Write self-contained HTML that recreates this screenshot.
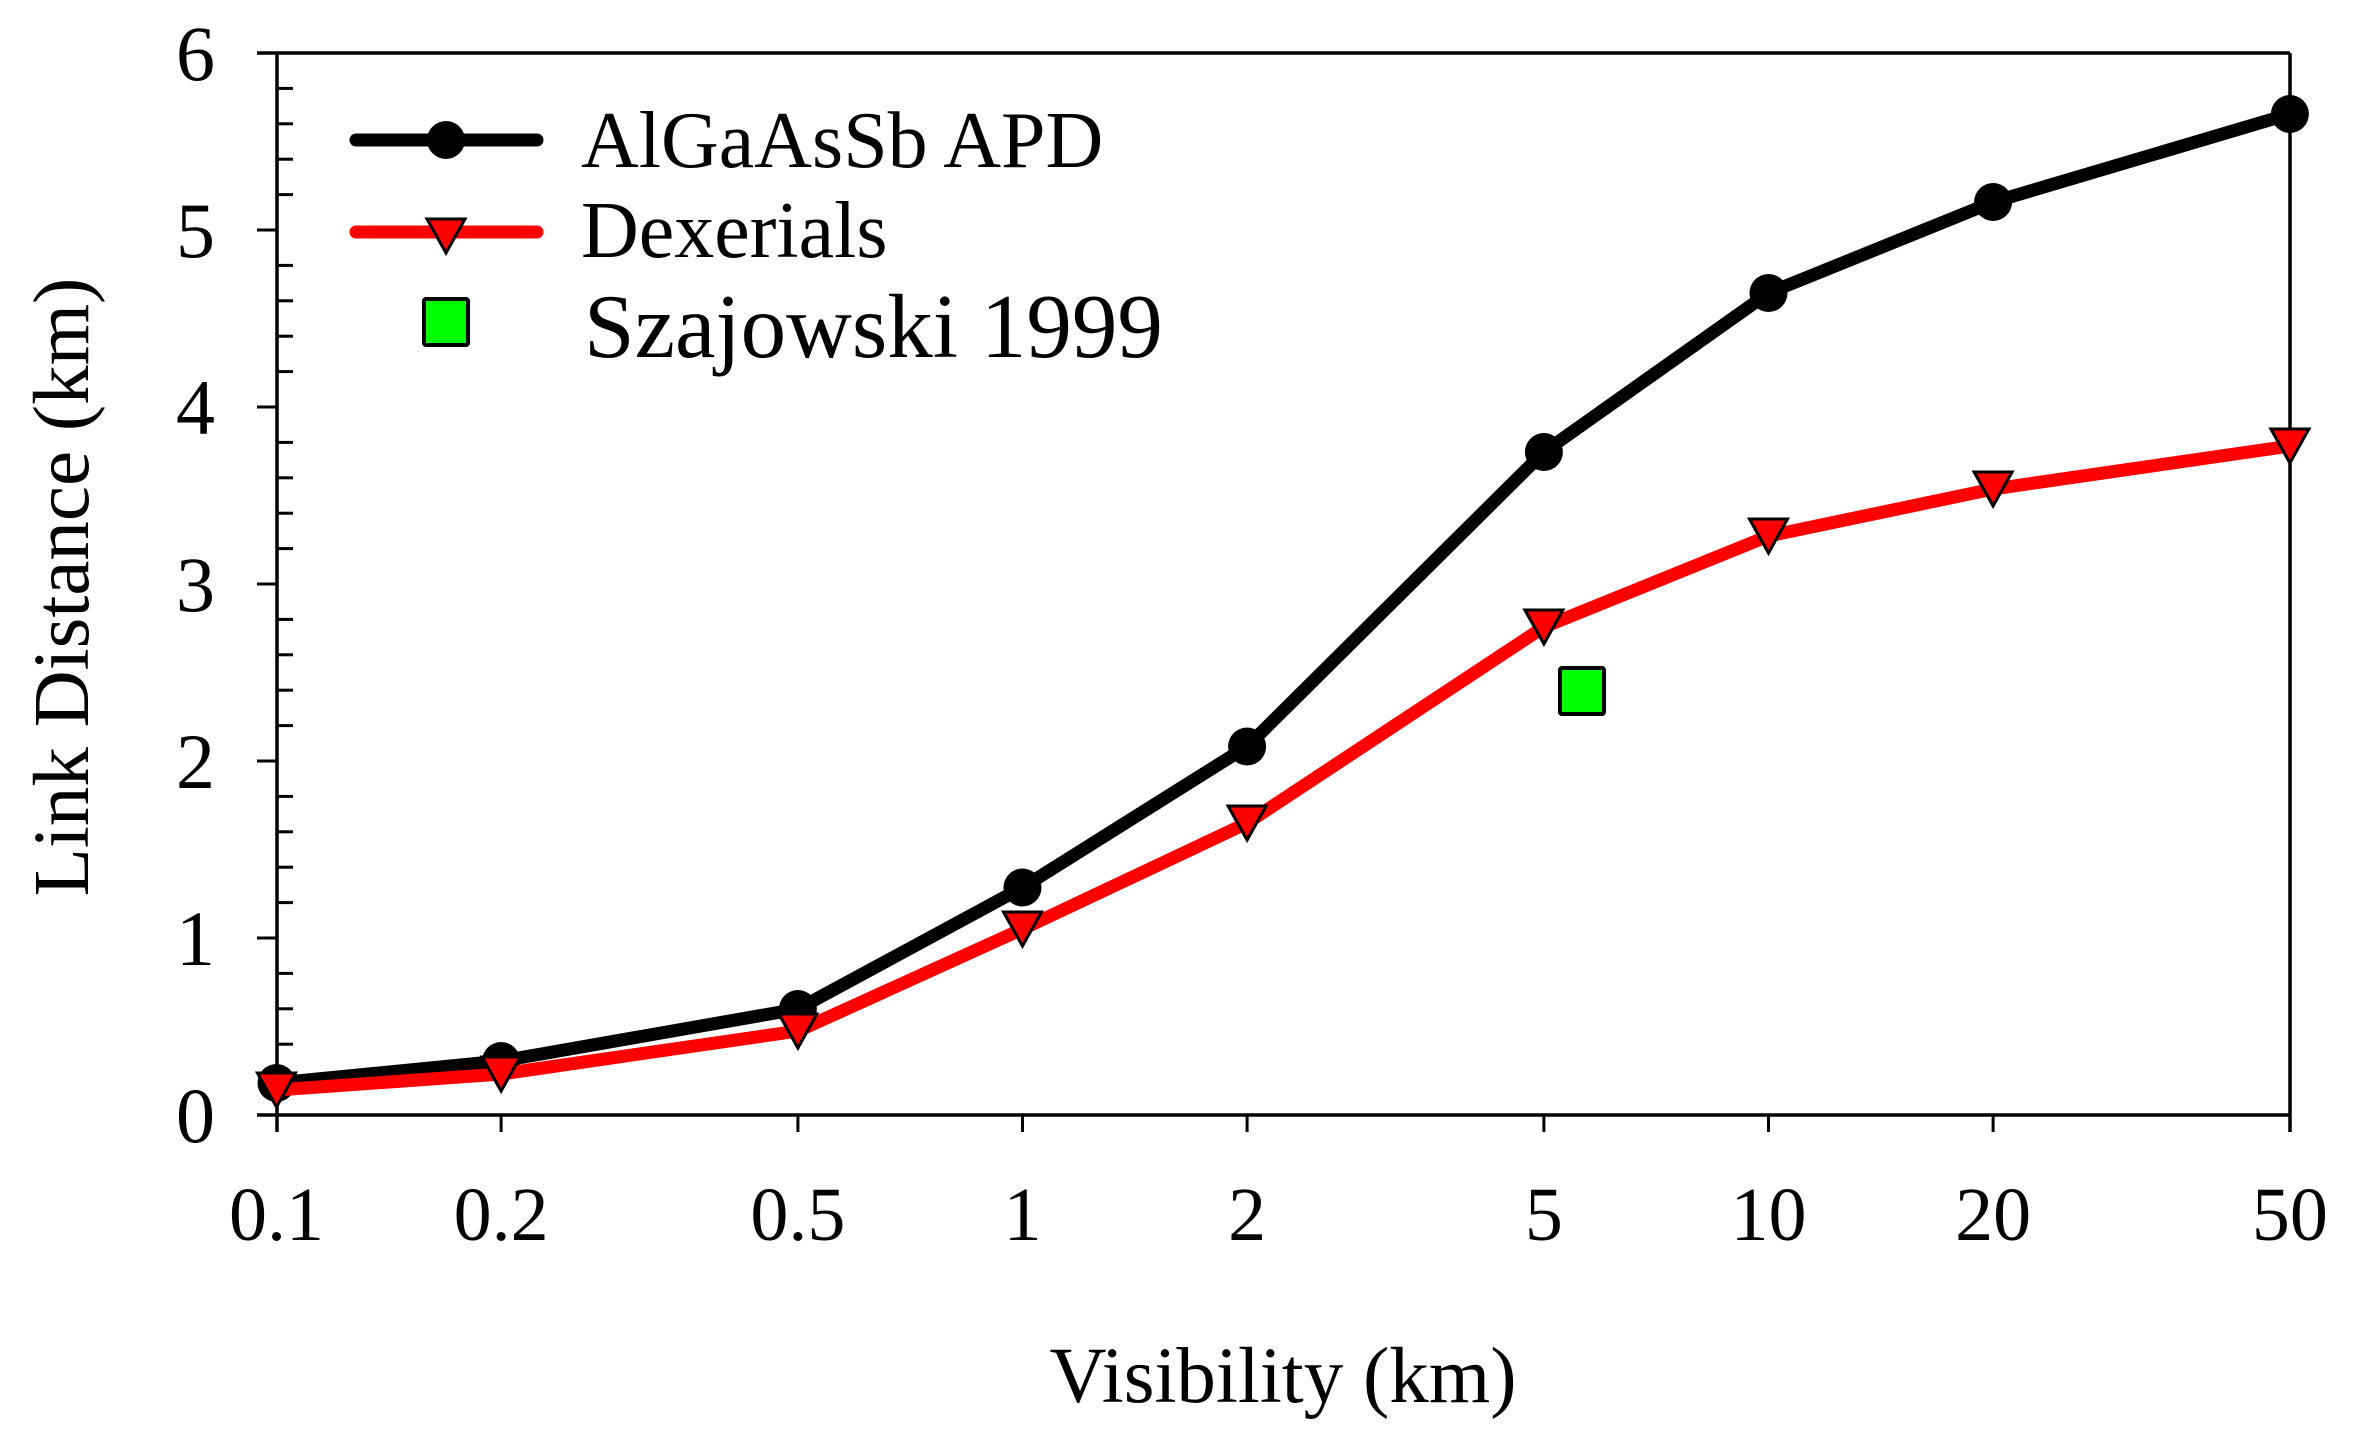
<!DOCTYPE html>
<html>
<head>
<meta charset="utf-8">
<style>
  html,body{margin:0;padding:0;background:#fff;}
  svg{display:block;}
  text{font-family:"Liberation Serif","Times New Roman",serif;fill:#000;}
</style>
</head>
<body>
<svg width="2357" height="1448" viewBox="0 0 2357 1448" xmlns="http://www.w3.org/2000/svg">
  <rect x="0" y="0" width="2357" height="1448" fill="#fff"/>

  <!-- frame -->
  <g stroke="#000" stroke-width="3.5" fill="none">
    <line x1="257" y1="53" x2="2290" y2="53"/>
    <line x1="257" y1="1115" x2="2290" y2="1115"/>
    <line x1="277" y1="53" x2="277" y2="1132"/>
    <line x1="2290" y1="53" x2="2290" y2="1132"/>
  </g>
  <g stroke="#000" stroke-width="3" fill="none">
    <!-- y major ticks (outward) -->
    <line x1="257" y1="938" x2="277" y2="938"/>
    <line x1="257" y1="761" x2="277" y2="761"/>
    <line x1="257" y1="584" x2="277" y2="584"/>
    <line x1="257" y1="407" x2="277" y2="407"/>
    <line x1="257" y1="230" x2="277" y2="230"/>
    <!-- y minor ticks (inward) -->
    <line x1="277" y1="1079.6" x2="293" y2="1079.6"/>
    <line x1="277" y1="1044.2" x2="293" y2="1044.2"/>
    <line x1="277" y1="1008.8" x2="293" y2="1008.8"/>
    <line x1="277" y1="973.4" x2="293" y2="973.4"/>
    <line x1="277" y1="902.6" x2="293" y2="902.6"/>
    <line x1="277" y1="867.2" x2="293" y2="867.2"/>
    <line x1="277" y1="831.8" x2="293" y2="831.8"/>
    <line x1="277" y1="796.4" x2="293" y2="796.4"/>
    <line x1="277" y1="725.6" x2="293" y2="725.6"/>
    <line x1="277" y1="690.2" x2="293" y2="690.2"/>
    <line x1="277" y1="654.8" x2="293" y2="654.8"/>
    <line x1="277" y1="619.4" x2="293" y2="619.4"/>
    <line x1="277" y1="548.6" x2="293" y2="548.6"/>
    <line x1="277" y1="513.2" x2="293" y2="513.2"/>
    <line x1="277" y1="477.8" x2="293" y2="477.8"/>
    <line x1="277" y1="442.4" x2="293" y2="442.4"/>
    <line x1="277" y1="371.6" x2="293" y2="371.6"/>
    <line x1="277" y1="336.2" x2="293" y2="336.2"/>
    <line x1="277" y1="300.8" x2="293" y2="300.8"/>
    <line x1="277" y1="265.4" x2="293" y2="265.4"/>
    <line x1="277" y1="194.6" x2="293" y2="194.6"/>
    <line x1="277" y1="159.2" x2="293" y2="159.2"/>
    <line x1="277" y1="123.8" x2="293" y2="123.8"/>
    <line x1="277" y1="88.4" x2="293" y2="88.4"/>
    <!-- x ticks (outward) -->
    <line x1="501.1" y1="1115" x2="501.1" y2="1132"/>
    <line x1="797.9" y1="1115" x2="797.9" y2="1132"/>
    <line x1="1022.5" y1="1115" x2="1022.5" y2="1132"/>
    <line x1="1247.1" y1="1115" x2="1247.1" y2="1132"/>
    <line x1="1543.9" y1="1115" x2="1543.9" y2="1132"/>
    <line x1="1768.5" y1="1115" x2="1768.5" y2="1132"/>
    <line x1="1993.1" y1="1115" x2="1993.1" y2="1132"/>
  </g>

  <!-- y tick labels -->
  <g font-size="78" text-anchor="end">
    <text x="215" y="1142">0</text>
    <text x="215" y="965">1</text>
    <text x="215" y="788">2</text>
    <text x="215" y="611">3</text>
    <text x="215" y="434">4</text>
    <text x="215" y="257">5</text>
    <text x="215" y="80">6</text>
  </g>

  <!-- x tick labels -->
  <g font-size="76" text-anchor="middle">
    <text x="276.5" y="1240">0.1</text>
    <text x="501.1" y="1240">0.2</text>
    <text x="797.9" y="1240">0.5</text>
    <text x="1022.5" y="1240">1</text>
    <text x="1247.1" y="1240">2</text>
    <text x="1543.9" y="1240">5</text>
    <text x="1768.5" y="1240">10</text>
    <text x="1993.1" y="1240">20</text>
    <text x="2289.9" y="1240">50</text>
  </g>

  <!-- axis labels -->
  <text x="1283" y="1402" font-size="79" text-anchor="middle">Visibility (km)</text>
  <text transform="translate(88,587) rotate(-90)" font-size="79" text-anchor="middle">Link Distance (km)</text>

  <!-- black series -->
  <polyline fill="none" stroke="#000" stroke-width="13" stroke-linejoin="round"
    points="276.5,1083 501.1,1061 797.9,1009 1022.5,887.5 1247.1,746.5 1543.9,452 1768.5,293 1993.1,202 2289.9,114"/>
  <g fill="#000">
    <circle cx="276.5" cy="1083" r="19"/>
    <circle cx="501.1" cy="1061" r="19"/>
    <circle cx="797.9" cy="1009" r="19"/>
    <circle cx="1022.5" cy="887.5" r="19"/>
    <circle cx="1247.1" cy="746.5" r="19"/>
    <circle cx="1543.9" cy="452" r="19"/>
    <circle cx="1768.5" cy="293" r="19"/>
    <circle cx="1993.1" cy="202" r="19"/>
    <circle cx="2289.9" cy="114" r="19"/>
  </g>

  <!-- red series -->
  <polyline fill="none" stroke="#ff0000" stroke-width="13" stroke-linejoin="round"
    points="276.5,1090 501.1,1074 797.9,1031 1022.5,929 1247.1,823 1543.9,627 1768.5,536 1993.1,489 2289.9,446"/>
  <g fill="#ff0000" stroke="#000" stroke-width="3" stroke-linejoin="miter">
    <polygon points="257.5,1073 295.5,1073 276.5,1107"/>
    <polygon points="482.1,1057 520.1,1057 501.1,1091"/>
    <polygon points="778.9,1014 816.9,1014 797.9,1048"/>
    <polygon points="1003.5,912 1041.5,912 1022.5,946"/>
    <polygon points="1228.1,806 1266.1,806 1247.1,840"/>
    <polygon points="1524.9,610 1562.9,610 1543.9,644"/>
    <polygon points="1749.5,519 1787.5,519 1768.5,553"/>
    <polygon points="1974.1,472 2012.1,472 1993.1,506"/>
    <polygon points="2270.9,429 2308.9,429 2289.9,463"/>
  </g>

  <!-- green point -->
  <rect x="1560" y="668" width="44" height="46" rx="2" fill="#00ff00" stroke="#000" stroke-width="4"/>

  <!-- legend -->
  <line x1="356" y1="140" x2="537" y2="140" stroke="#000" stroke-width="13" stroke-linecap="round"/>
  <circle cx="446" cy="140" r="19" fill="#000"/>
  <line x1="356" y1="232" x2="537" y2="232" stroke="#ff0000" stroke-width="13" stroke-linecap="round"/>
  <polygon points="427,219 465,219 446,253" fill="#ff0000" stroke="#000" stroke-width="3"/>
  <rect x="424" y="299" width="44" height="46" rx="2" fill="#00ff00" stroke="#000" stroke-width="4"/>

  <text x="581" y="167" font-size="80">AlGaAsSb APD</text>
  <text x="581" y="257" font-size="80">Dexerials</text>
  <text x="584" y="357" font-size="91">Szajowski 1999</text>
</svg>
</body>
</html>
